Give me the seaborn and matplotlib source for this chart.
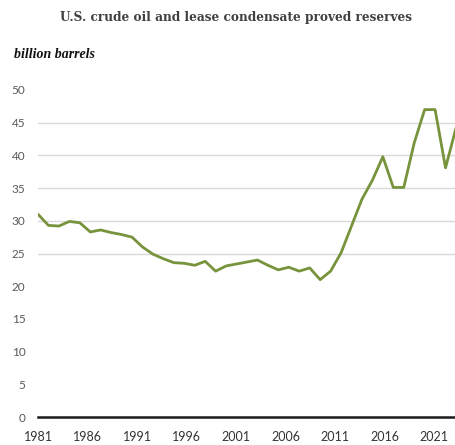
import matplotlib
matplotlib.use("Agg")
import matplotlib.pyplot as plt
import seaborn as sns
import pandas as pd

years = list(range(1981, 2022))
reserves = [31.0, 29.3, 29.2, 29.9, 29.7, 28.3, 28.6, 28.2, 27.9, 27.5,
            26.0, 24.9, 24.2, 23.6, 23.5, 23.2, 23.8, 22.3, 23.1, 23.4,
            23.7, 24.0, 23.2, 22.5, 22.9, 22.3, 22.8, 21.0, 22.3, 25.1,
            29.2, 33.3, 36.2, 39.8, 35.1, 35.1, 41.9, 47.0, 47.0, 38.1,
            44.2]
xtick_years = [1981, 1986, 1991, 1996, 2001, 2006, 2011, 2016, 2021]
ytick_values = [0, 5, 10, 15, 20, 25, 30, 35, 40, 45, 50]
grid_values = [25, 30, 35, 40, 45]

title_text = "U.S. crude oil and lease condensate proved reserves"
unit_text = "billion barrels"

df = pd.DataFrame({"year": years, "reserves": reserves})

sns.set_theme(style="white")
plt.rcParams["font.family"] = ["Lato", "DejaVu Sans"]

W, H = 456, 445
fig = plt.figure(figsize=(W / 100, H / 100), dpi=100)
ax = fig.add_axes([38 / W, (H - 417) / H, 1 - 38 / W, (417 - 90) / H])

for g in grid_values:
    ax.axhline(g, color="#d9d9d9", linewidth=1.0, zorder=0)

sns.lineplot(data=df, x="year", y="reserves", ax=ax, color="#77933C",
             linewidth=2.0, zorder=3)

ax.set_xlim(years[0], years[-1])
ax.set_ylim(0, 50)
ax.set_xticks([])
ax.set_yticks(ytick_values)
ax.set_yticklabels([str(v) for v in ytick_values], fontsize=8.5, color="#595959")
ax.tick_params(axis="y", length=0, pad=9)
ax.set_xlabel("")
ax.set_ylabel("")

for s in ["left", "right", "top"]:
    ax.spines[s].set_visible(False)
ax.spines["bottom"].set_color("#1a1a1a")
ax.spines["bottom"].set_linewidth(1.8)
ax.spines["bottom"].set_zorder(4)

# category label axis (labels in the source are spaced a little tighter than the data)
lab = ax.twiny()
lab.set_xlim(xtick_years[0], xtick_years[0] + (456 - 38) / 9.91)
lab.set_xticks(xtick_years)
lab.set_xticklabels([str(y) for y in xtick_years], fontsize=9, color="#333333")
lab.xaxis.set_ticks_position("bottom")
lab.xaxis.set_label_position("bottom")
lab.tick_params(axis="x", length=0, pad=10)
for s in lab.spines.values():
    s.set_visible(False)

fig.text(236 / W, 1 - 18 / H, title_text, ha="center", va="center",
         fontsize=8.7, fontweight="bold", color="#404040",
         family=["DejaVu Serif"])
fig.text(14 / W, 1 - 54 / H, unit_text, ha="left", va="center",
         fontsize=10, fontweight="bold", fontstyle="italic", color="#111111",
         family=["Liberation Serif", "DejaVu Serif"])

fig.savefig("out.png", dpi=100)
